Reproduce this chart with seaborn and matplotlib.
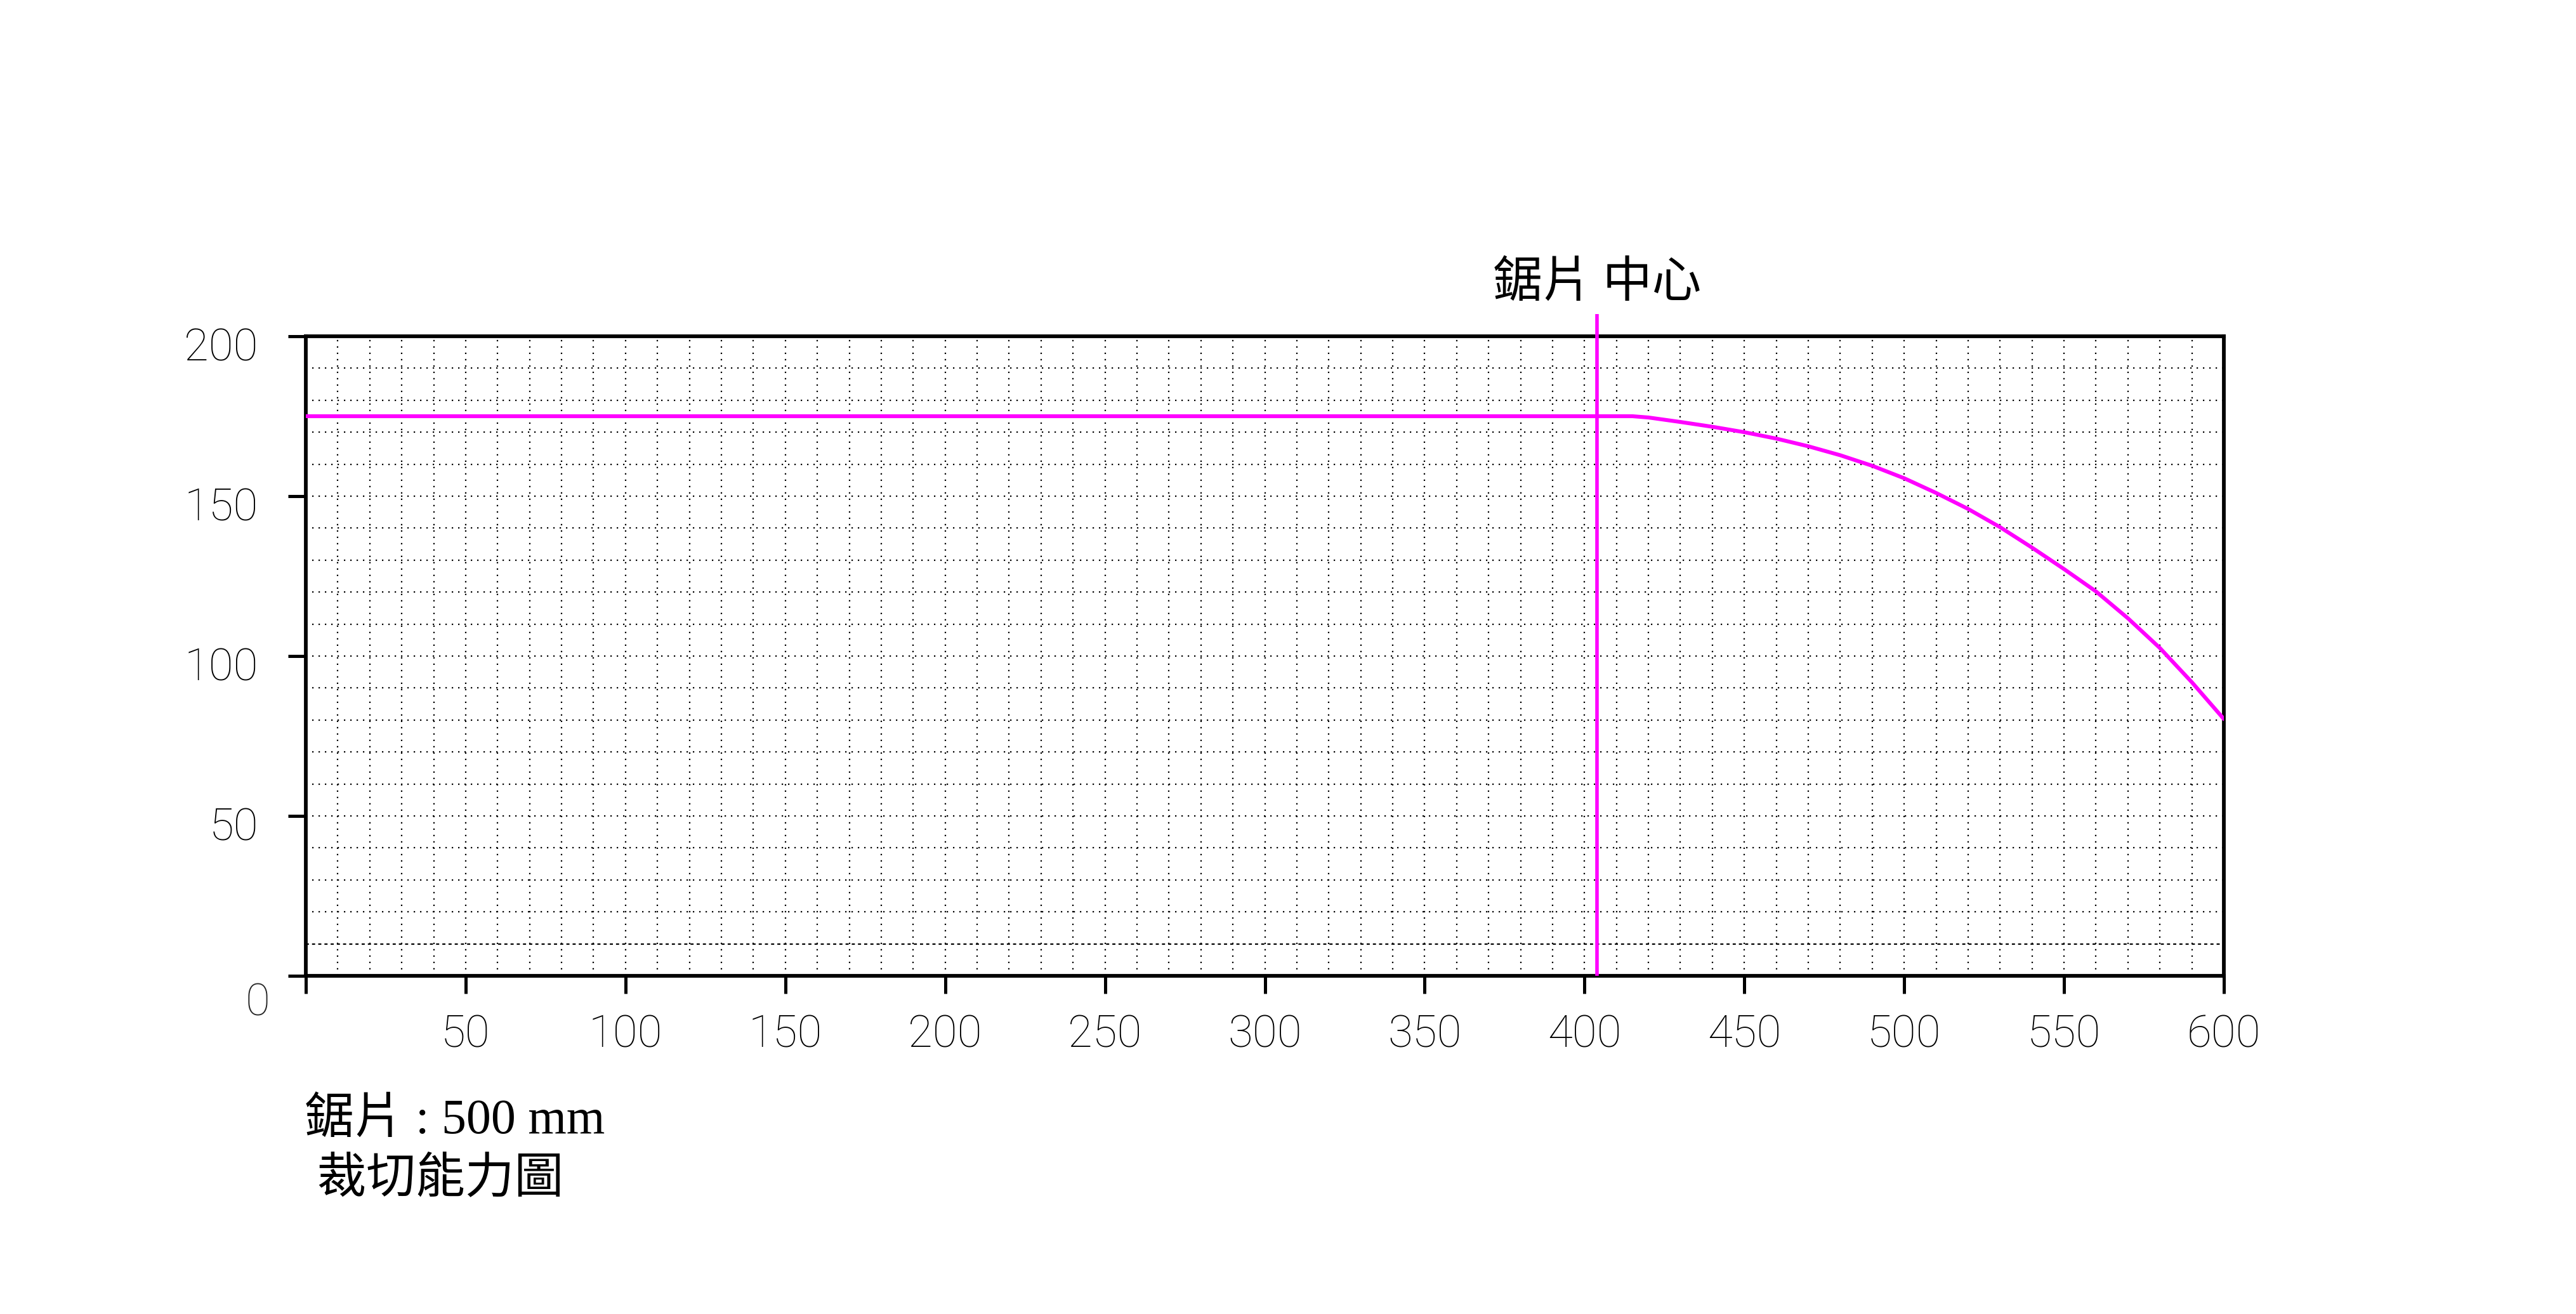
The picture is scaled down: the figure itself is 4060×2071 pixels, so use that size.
import numpy as np
import pandas as pd
import matplotlib
matplotlib.use("Agg")
import matplotlib.pyplot as plt
import matplotlib.transforms as mtransforms
from matplotlib.ticker import MultipleLocator
import seaborn as sns

# ---------------- data ----------------
x_mm = [0, 415, 420, 430, 440, 450, 460, 470, 480, 490, 500, 510, 520,
        530, 540, 550, 560, 570, 580, 590, 600]
height_mm = [175, 175, 174.6, 173.2, 171.7, 170.0, 168.0, 165.6, 162.8,
             159.5, 155.6, 151.0, 146.0, 140.3, 133.9, 127.2, 120.2,
             111.8, 102.5, 91.8, 80.3]
blade_center_x = 404
blade_center_top = 207

x_ticks = [0, 50, 100, 150, 200, 250, 300, 350, 400, 450, 500, 550, 600]
x_tick_labels = ["", "50", "100", "150", "200", "250", "300", "350",
                 "400", "450", "500", "550", "600"]
y_ticks = [0, 50, 100, 150, 200]
y_tick_labels = ["", "50", "100", "150", "200"]
corner_label = "0"
center_label = "鋸片 中心"
note_line1 = "鋸片 : 500 mm"
note_line2 = " 裁切能力圖"
dashed_grid_y = 10

# ---------------- style ----------------
sns.set_style("white")
plt.rcParams["font.family"] = ["Roboto", "DejaVu Sans"]

W, H, DPI = 4060, 2071, 100
fig = plt.figure(figsize=(W / DPI, H / DPI), dpi=DPI)
ax = fig.add_axes([482 / W, 1 - 1538 / H, (3505 - 482) / W, (1538 - 530) / H])

df = pd.DataFrame({"x": x_mm, "h": height_mm})
sns.lineplot(data=df, x="x", y="h", color="#FF00FF", linewidth=4.4,
             estimator=None, sort=False, ax=ax, zorder=5)

# blade centre line
ax.plot([blade_center_x, blade_center_x], [0, blade_center_top],
        color="#FF00FF", linewidth=4.0, clip_on=False, zorder=6,
        solid_capstyle="butt")
ax.text(blade_center_x, 216.5, center_label, ha="center", va="center",
        fontsize=56, family=["Noto Sans CJK TC", "DejaVu Sans"],
        color="black", clip_on=False)

ax.set_xlim(0, 600)
ax.set_ylim(0, 200)
ax.set_xlabel("")
ax.set_ylabel("")

# grid every 10
ax.xaxis.set_minor_locator(MultipleLocator(10))
ax.yaxis.set_minor_locator(MultipleLocator(10))
ax.set_axisbelow(True)
ax.grid(which="both", color="black", linewidth=1.6,
        linestyle=(0, (1, 3.5)))

ax.set_xticks(x_ticks)
ax.set_xticklabels(x_tick_labels)
ax.set_yticks(y_ticks)
ax.set_yticklabels(y_tick_labels)

# the y=10 grid line is dashed in the reference
minor_locs = ax.yaxis.get_minorticklocs()
for loc, tk in zip(minor_locs, ax.yaxis.get_minor_ticks(len(minor_locs))):
    if abs(loc - dashed_grid_y) < 1e-6:
        tk.gridline.set_linestyle((0, (2.2, 2.2)))

ax.tick_params(axis="both", which="major", length=20, width=3.6,
               color="black", direction="out", labelsize=51,
               labelcolor="black")
ax.tick_params(axis="x", which="major", pad=23, bottom=True)
ax.tick_params(axis="y", which="major", pad=34, left=True)
ax.tick_params(which="minor", length=0)

for lab in ax.get_xticklabels() + ax.get_yticklabels():
    lab.set_fontweight("light")
for lab in ax.get_yticklabels():
    lab.set_transform(lab.get_transform() +
                      mtransforms.ScaledTranslation(0, -12 / DPI, fig.dpi_scale_trans))

for sp in ax.spines.values():
    sp.set_visible(True)
    sp.set_color("black")
    sp.set_linewidth(4.2)

ax.text(-15, -8.5, corner_label, ha="center", va="center", fontsize=51,
        fontweight="light", clip_on=False)

note_family = ["Liberation Serif", "Noto Sans CJK TC"]
fig.text(480 / W, 1 - 1768 / H, note_line1, ha="left", va="center",
         fontsize=56, family=note_family, color="black")
fig.text(480 / W, 1 - 1860 / H, note_line2, ha="left", va="center",
         fontsize=56, family=note_family, color="black")

fig.savefig("out.png", dpi=DPI, facecolor="white")
